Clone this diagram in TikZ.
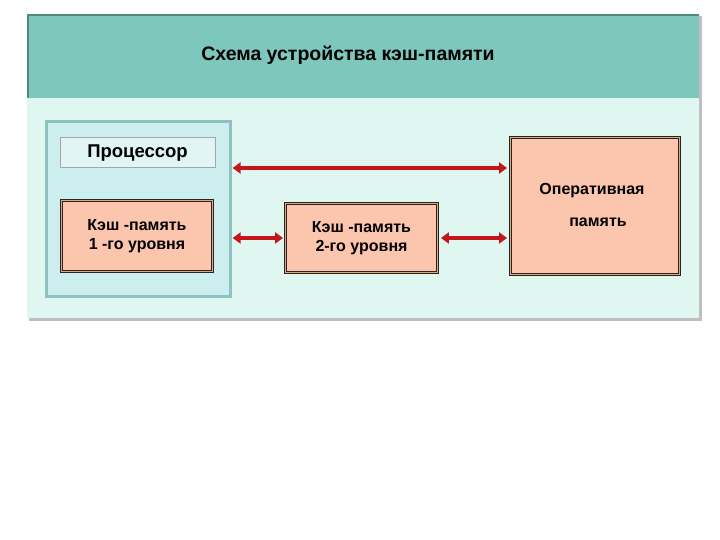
\documentclass[tikz,border=0pt]{standalone}
\usepackage{fontspec}
\setmainfont{Liberation Sans}
\usetikzlibrary{arrows.meta}
\definecolor{hdr}{HTML}{7EC7BC}
\definecolor{hdrdark}{HTML}{4E8A80}
\definecolor{body}{HTML}{E0F6F0}
\definecolor{procfill}{HTML}{CDEEEE}
\definecolor{procedge}{HTML}{8FC1C0}
\definecolor{salmon}{HTML}{FCC5AE}
\definecolor{arrred}{HTML}{C0161C}
\tikzset{
  membox/.style={draw=black!85, double=salmon!55!brown, double distance=1.4pt, line width=0.9pt, fill=salmon, inner sep=0pt, font=\bfseries\fontsize{16}{19.5}\selectfont, align=center},
  arr/.style={draw=arrred, line width=3.4pt, {Triangle[width=11pt,length=8pt]}-{Triangle[width=11pt,length=8pt]}},
}
\begin{document}
\begin{tikzpicture}[x=1pt,y=-1pt]
\useasboundingbox (0,0) rectangle (720,540);
\fill[white] (0,0) rectangle (720,540);
% frame shadow
\fill[black!25] (29,16) rectangle (702,321);
% body
\fill[body] (27,98) rectangle (699,318);
% header
\fill[hdr] (27,14) rectangle (699,98);
\draw[hdrdark, line width=2.5pt] (28,98) -- (28,15) -- (699,15);
\node (title) at (348,55) {\bfseries\fontsize{19.5}{23}\selectfont Схема устройства кэш-памяти};
% processor
\node[draw=procedge, line width=2.2pt, fill=procfill, minimum width=184pt, minimum height=175pt, inner sep=0pt] (proc) at (138.5,209) {};
\node[draw=black!35, line width=1pt, fill=procfill!60!white, minimum width=155pt, minimum height=30pt, inner sep=0pt, font=\bfseries\fontsize{18.5}{22}\selectfont] (plabel) at (137.5,153) {Процессор};
\node[membox, minimum width=151pt, minimum height=71pt] (l1) at (137,236) {Кэш -память\\1 -го уровня};
\node[membox, minimum width=152pt, minimum height=69pt] (l2) at (361.5,238) {Кэш -память\\2-го уровня};
\node[membox, minimum width=169pt, minimum height=137pt] (ram) at (595,206) {};
\node[font=\bfseries\fontsize{16}{19.5}\selectfont] (ramt1) at (592,191) {Оперативная};
\node[font=\bfseries\fontsize{16}{19.5}\selectfont] (ramt2) at (598,222) {память};
% connectors
\coordinate (top) at (0,168);
\draw[arr] ([xshift=1pt]proc.east |- top) -- ([xshift=-3pt]ram.west |- top);
\draw[arr] ([xshift=1pt]proc.east |- l2.west) -- ([xshift=-2pt]l2.west);
\draw[arr] ([xshift=3pt]l2.east) -- ([xshift=-3pt]ram.west |- l2.east);
\end{tikzpicture}
\end{document}
